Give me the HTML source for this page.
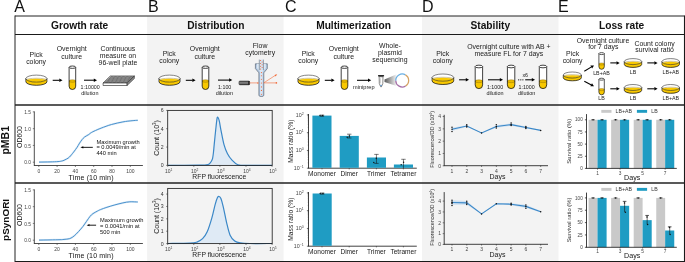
<!DOCTYPE html>
<html><head><meta charset="utf-8"><style>
html,body{margin:0;padding:0;background:#fff;}
svg{display:block;font-family:"Liberation Sans", sans-serif;will-change:transform;}
</style></head><body>
<svg width="685" height="262" viewBox="0 0 685 262">
<rect x="147.1" y="16" width="136.5" height="246" fill="#f3f3f3"/>
<rect x="422" y="16" width="136.5" height="246" fill="#f3f3f3"/>
<line x1="15" y1="16" x2="684.5" y2="16" stroke="#222" stroke-width="1.0"/>
<line x1="15" y1="34.5" x2="685" y2="34.5" stroke="#1a1a1a" stroke-width="1.1"/>
<line x1="15" y1="105" x2="685" y2="105" stroke="#222" stroke-width="1.5"/>
<line x1="15" y1="183" x2="685" y2="183" stroke="#222" stroke-width="1.5"/>
<line x1="15" y1="261.5" x2="685" y2="261.5" stroke="#1a1a1a" stroke-width="1.1"/>
<line x1="15" y1="15.5" x2="15" y2="262" stroke="#222" stroke-width="1.0"/>
<line x1="684.5" y1="15.5" x2="684.5" y2="262" stroke="#1a1a1a" stroke-width="1.1"/>
<text x="14.2" y="11.6" font-size="16" text-anchor="start" fill="#111">A</text>
<text x="147.9" y="11.6" font-size="16" text-anchor="start" fill="#111">B</text>
<text x="285.1" y="11.6" font-size="16" text-anchor="start" fill="#111">C</text>
<text x="421.9" y="11.6" font-size="16" text-anchor="start" fill="#111">D</text>
<text x="557.9" y="11.6" font-size="16" text-anchor="start" fill="#111">E</text>
<text x="79.7" y="28.5" font-size="10.2" text-anchor="middle" fill="#111" font-weight="bold">Growth rate</text>
<text x="215.8" y="28.5" font-size="10.2" text-anchor="middle" fill="#111" font-weight="bold">Distribution</text>
<text x="353.5" y="28.5" font-size="10.2" text-anchor="middle" fill="#111" font-weight="bold">Multimerization</text>
<text x="490.3" y="28.5" font-size="10.2" text-anchor="middle" fill="#111" font-weight="bold">Stability</text>
<text x="621.6" y="28.5" font-size="10.2" text-anchor="middle" fill="#111" font-weight="bold">Loss rate</text>
<text transform="translate(8.6,140.3) rotate(-90)" font-size="10.5" font-weight="bold" text-anchor="middle" fill="#111">pMB1</text>
<text transform="translate(8.6,219.9) rotate(-90)" font-size="9.95" font-weight="bold" text-anchor="middle" fill="#111">pSynORI</text>
<text x="36.1" y="56.9" font-size="6.9" text-anchor="middle" fill="#1a1a1a">Pick</text>
<text x="36.1" y="63.5" font-size="6.9" text-anchor="middle" fill="#1a1a1a">colony</text>
<text x="71.7" y="51.4" font-size="6.9" text-anchor="middle" fill="#1a1a1a">Overnight</text>
<text x="71.7" y="58.6" font-size="6.9" text-anchor="middle" fill="#1a1a1a">culture</text>
<path d="M25.9,78.6 L25.9,81.8 A10.5,3.5 0 0 0 46.9,81.8 L46.9,78.6 A10.5,3.5 0 0 1 25.9,78.6 Z" fill="#f8c800" stroke="#111" stroke-width="0.75"/>
<path d="M25.9,78.6 A10.5,3.5 0 0 1 46.9,78.6 A10.5,3.5 0 0 1 25.9,78.6 Z" fill="#fff"/>
<path d="M26.21,80.36 A10.19,1.61 0 0 1 46.59,80.36 A10.5,3.5 0 0 1 26.21,80.36 Z" fill="#f8c800"/>
<path d="M26.21,79.86 A10.19,1.61 0 0 1 46.59,79.86" fill="none" stroke="#8a6c00" stroke-width="0.375"/>
<ellipse cx="36.4" cy="78.6" rx="10.5" ry="3.5" fill="none" stroke="#333" stroke-width="0.6000000000000001"/>
<line x1="52.7" y1="80.3" x2="59.6" y2="80.3" stroke="#000" stroke-width="1.05"/>
<path d="M62.5,80.3 L59.3,82.05 L59.3,78.55 Z" fill="#000"/>
<path d="M69.1,67.2 L69.1,86.2 A3.3,3.3 0 0 0 75.7,86.2 L75.7,67.2 Z" fill="#fff"/>
<path d="M69.1,81 L69.1,86.2 A3.3,3.3 0 0 0 75.7,86.2 L75.7,81 Z" fill="#f8c800"/>
<ellipse cx="72.4" cy="81" rx="3.3" ry="1.32" fill="#e9b900" stroke="#7a5c00" stroke-width="0.35"/>
<path d="M69.1,67.2 L69.1,86.2 A3.3,3.3 0 0 0 75.7,86.2 L75.7,67.2" fill="none" stroke="#111" stroke-width="0.8"/>
<ellipse cx="72.4" cy="67.2" rx="3.3" ry="1.19" fill="#fff" stroke="#111" stroke-width="0.8"/>
<line x1="84" y1="80.2" x2="94.1" y2="80.2" stroke="#000" stroke-width="1.05"/>
<path d="M97,80.2 L93.8,81.95 L93.8,78.45 Z" fill="#000"/>
<text x="90.2" y="89" font-size="5.3" text-anchor="middle" fill="#1a1a1a">1:10000</text>
<text x="89.8" y="94.6" font-size="5.45" text-anchor="middle" fill="#1a1a1a">dilution</text>
<text x="117.9" y="51.4" font-size="6.9" text-anchor="middle" fill="#1a1a1a">Continuous</text>
<text x="117.9" y="58.4" font-size="6.9" text-anchor="middle" fill="#1a1a1a">measure on</text>
<text x="117.9" y="65.3" font-size="6.9" text-anchor="middle" fill="#1a1a1a">96-well plate</text>
<path d="M110.3,76 L134.4,76 L127.1,83 L103.1,83 Z" fill="#c4c4c4"/>
<line x1="104.94" y1="82.4" x2="111.74" y2="76.6" stroke="#3a3a3a" stroke-width="0.62"/>
<line x1="106.28" y1="82.4" x2="113.08" y2="76.6" stroke="#3a3a3a" stroke-width="0.62"/>
<line x1="107.62" y1="82.4" x2="114.42" y2="76.6" stroke="#3a3a3a" stroke-width="0.62"/>
<line x1="108.96" y1="82.4" x2="115.76" y2="76.6" stroke="#3a3a3a" stroke-width="0.62"/>
<line x1="110.3" y1="82.4" x2="117.1" y2="76.6" stroke="#3a3a3a" stroke-width="0.62"/>
<line x1="111.64" y1="82.4" x2="118.44" y2="76.6" stroke="#3a3a3a" stroke-width="0.62"/>
<line x1="112.98" y1="82.4" x2="119.78" y2="76.6" stroke="#3a3a3a" stroke-width="0.62"/>
<line x1="114.32" y1="82.4" x2="121.12" y2="76.6" stroke="#3a3a3a" stroke-width="0.62"/>
<line x1="115.66" y1="82.4" x2="122.46" y2="76.6" stroke="#3a3a3a" stroke-width="0.62"/>
<line x1="117" y1="82.4" x2="123.8" y2="76.6" stroke="#3a3a3a" stroke-width="0.62"/>
<line x1="118.34" y1="82.4" x2="125.14" y2="76.6" stroke="#3a3a3a" stroke-width="0.62"/>
<line x1="119.68" y1="82.4" x2="126.48" y2="76.6" stroke="#3a3a3a" stroke-width="0.62"/>
<line x1="121.02" y1="82.4" x2="127.82" y2="76.6" stroke="#3a3a3a" stroke-width="0.62"/>
<line x1="122.36" y1="82.4" x2="129.16" y2="76.6" stroke="#3a3a3a" stroke-width="0.62"/>
<line x1="123.7" y1="82.4" x2="130.5" y2="76.6" stroke="#3a3a3a" stroke-width="0.62"/>
<line x1="125.04" y1="82.4" x2="131.84" y2="76.6" stroke="#3a3a3a" stroke-width="0.62"/>
<line x1="126.38" y1="82.4" x2="133.18" y2="76.6" stroke="#3a3a3a" stroke-width="0.62"/>
<path d="M110.3,76 L134.4,76 L127.1,83 L103.1,83 Z" fill="none" stroke="#1a1a1a" stroke-width="0.6"/>
<path d="M103.1,83 L127.1,83 L127.1,85.5 L103.1,85.5 Z" fill="#fff" stroke="#1a1a1a" stroke-width="0.6"/>
<path d="M127.1,83 L134.4,76 L134.4,78.5 L127.1,85.5 Z" fill="#8a8a8a" stroke="#1a1a1a" stroke-width="0.5"/>
<text x="169.2" y="56.2" font-size="6.9" text-anchor="middle" fill="#1a1a1a">Pick</text>
<text x="169.2" y="62.8" font-size="6.9" text-anchor="middle" fill="#1a1a1a">colony</text>
<text x="204.8" y="51.4" font-size="6.9" text-anchor="middle" fill="#1a1a1a">Overnight</text>
<text x="204.8" y="58.6" font-size="6.9" text-anchor="middle" fill="#1a1a1a">culture</text>
<path d="M159,78.6 L159,81.8 A10.5,3.5 0 0 0 180,81.8 L180,78.6 A10.5,3.5 0 0 1 159,78.6 Z" fill="#f8c800" stroke="#111" stroke-width="0.75"/>
<path d="M159,78.6 A10.5,3.5 0 0 1 180,78.6 A10.5,3.5 0 0 1 159,78.6 Z" fill="#fff"/>
<path d="M159.31,80.36 A10.19,1.61 0 0 1 179.69,80.36 A10.5,3.5 0 0 1 159.31,80.36 Z" fill="#f8c800"/>
<path d="M159.31,79.86 A10.19,1.61 0 0 1 179.69,79.86" fill="none" stroke="#8a6c00" stroke-width="0.375"/>
<ellipse cx="169.5" cy="78.6" rx="10.5" ry="3.5" fill="none" stroke="#333" stroke-width="0.6000000000000001"/>
<line x1="185.8" y1="80.3" x2="192.7" y2="80.3" stroke="#000" stroke-width="1.05"/>
<path d="M195.6,80.3 L192.4,82.05 L192.4,78.55 Z" fill="#000"/>
<path d="M202.2,67.2 L202.2,86.2 A3.3,3.3 0 0 0 208.8,86.2 L208.8,67.2 Z" fill="#fff"/>
<path d="M202.2,81 L202.2,86.2 A3.3,3.3 0 0 0 208.8,86.2 L208.8,81 Z" fill="#f8c800"/>
<ellipse cx="205.5" cy="81" rx="3.3" ry="1.32" fill="#e9b900" stroke="#7a5c00" stroke-width="0.35"/>
<path d="M202.2,67.2 L202.2,86.2 A3.3,3.3 0 0 0 208.8,86.2 L208.8,67.2" fill="none" stroke="#111" stroke-width="0.8"/>
<ellipse cx="205.5" cy="67.2" rx="3.3" ry="1.19" fill="#fff" stroke="#111" stroke-width="0.8"/>
<line x1="218" y1="80.1" x2="229.4" y2="80.1" stroke="#000" stroke-width="1.05"/>
<path d="M232.3,80.1 L229.1,81.85 L229.1,78.35 Z" fill="#000"/>
<text x="224.7" y="88.6" font-size="5.3" text-anchor="middle" fill="#1a1a1a">1:100</text>
<text x="224.3" y="94.5" font-size="5.45" text-anchor="middle" fill="#1a1a1a">dilution</text>
<text x="260.1" y="48.1" font-size="6.9" text-anchor="middle" fill="#1a1a1a">Flow</text>
<text x="260.2" y="54.8" font-size="6.9" text-anchor="middle" fill="#1a1a1a">cytometry</text>
<path d="M255.4,63.8 L255.4,68.6 L258.9,72.8 L258.9,95.2 Q258.9,96.5 261.35,96.5 Q263.8,96.5 263.8,95.2 L263.8,72.8 L267.3,68.6 L267.3,63.8 Z" fill="#b3c9e2" stroke="#3a4654" stroke-width="0.55"/>
<path d="M256.9,63.8 L256.9,68.1 L260.1,71.8 L260.1,95.6 L262.6,95.6 L262.6,71.8 L265.8,68.1 L265.8,63.8 Z" fill="#dbe7f3"/>
<rect x="259.3" y="59.6" width="4.1" height="10.6" fill="#d6e4f2"/>
<line x1="259.3" y1="59.6" x2="259.3" y2="70.2" stroke="#44505e" stroke-width="0.5"/>
<line x1="263.4" y1="59.6" x2="263.4" y2="70.2" stroke="#44505e" stroke-width="0.5"/>
<circle cx="260.6" cy="60.6" r="0.5" fill="#ee5f2b"/>
<circle cx="262.1" cy="62.0" r="0.5" fill="#ee5f2b"/>
<circle cx="260.6" cy="63.4" r="0.5" fill="#ee5f2b"/>
<circle cx="262.1" cy="64.8" r="0.5" fill="#ee5f2b"/>
<circle cx="260.6" cy="66.2" r="0.5" fill="#ee5f2b"/>
<circle cx="262.1" cy="67.6" r="0.5" fill="#ee5f2b"/>
<circle cx="260.6" cy="69.0" r="0.5" fill="#ee5f2b"/>
<circle cx="261.4" cy="72.6" r="0.55" fill="#ee5f2b"/>
<circle cx="261.4" cy="75.8" r="0.55" fill="#ee5f2b"/>
<circle cx="261.4" cy="79.2" r="0.55" fill="#ee5f2b"/>
<circle cx="261.4" cy="83.0" r="0.55" fill="#ee5f2b"/>
<circle cx="261.4" cy="86.9" r="0.55" fill="#ee5f2b"/>
<circle cx="261.4" cy="90.4" r="0.55" fill="#ee5f2b"/>
<circle cx="261.4" cy="94.3" r="0.55" fill="#ee5f2b"/>
<defs><linearGradient id="las" x1="0" x2="0" y1="0" y2="1"><stop offset="0" stop-color="#3a3a3a"/><stop offset="0.5" stop-color="#8a8a8a"/><stop offset="1" stop-color="#333"/></linearGradient></defs>
<rect x="238.9" y="80.9" width="10.8" height="4.0" rx="1.2" fill="url(#las)" stroke="#222" stroke-width="0.4"/>
<rect x="248.2" y="81.0" width="1.4" height="3.8" fill="#222"/>
<line x1="249.7" y1="82.9" x2="257.6" y2="82.9" stroke="#f26a38" stroke-width="0.6"/>
<circle cx="257.9" cy="82.9" r="0.75" fill="#f26a38"/>
<line x1="263.7" y1="82.9" x2="276.2" y2="82.9" stroke="#f26a38" stroke-width="0.6"/>
<circle cx="276.4" cy="82.9" r="0.8" fill="#f26a38"/>
<line x1="263.7" y1="82.9" x2="276.2" y2="74.8" stroke="#f26a38" stroke-width="0.6"/>
<path d="M277.2,74.2 L274.6,75 L275.6,76.4 Z" fill="#f26a38"/>
<text x="308.2" y="55.9" font-size="6.9" text-anchor="middle" fill="#1a1a1a">Pick</text>
<text x="308.2" y="62.5" font-size="6.9" text-anchor="middle" fill="#1a1a1a">colony</text>
<text x="343.8" y="51.4" font-size="6.9" text-anchor="middle" fill="#1a1a1a">Overnight</text>
<text x="343.8" y="58.6" font-size="6.9" text-anchor="middle" fill="#1a1a1a">culture</text>
<path d="M298,78.6 L298,81.8 A10.5,3.5 0 0 0 319,81.8 L319,78.6 A10.5,3.5 0 0 1 298,78.6 Z" fill="#f8c800" stroke="#111" stroke-width="0.75"/>
<path d="M298,78.6 A10.5,3.5 0 0 1 319,78.6 A10.5,3.5 0 0 1 298,78.6 Z" fill="#fff"/>
<path d="M298.31,80.36 A10.19,1.61 0 0 1 318.69,80.36 A10.5,3.5 0 0 1 298.31,80.36 Z" fill="#f8c800"/>
<path d="M298.31,79.86 A10.19,1.61 0 0 1 318.69,79.86" fill="none" stroke="#8a6c00" stroke-width="0.375"/>
<ellipse cx="308.5" cy="78.6" rx="10.5" ry="3.5" fill="none" stroke="#333" stroke-width="0.6000000000000001"/>
<line x1="324.8" y1="80.3" x2="331.7" y2="80.3" stroke="#000" stroke-width="1.05"/>
<path d="M334.6,80.3 L331.4,82.05 L331.4,78.55 Z" fill="#000"/>
<path d="M341.2,67.2 L341.2,86.2 A3.3,3.3 0 0 0 347.8,86.2 L347.8,67.2 Z" fill="#fff"/>
<path d="M341.2,81 L341.2,86.2 A3.3,3.3 0 0 0 347.8,86.2 L347.8,81 Z" fill="#f8c800"/>
<ellipse cx="344.5" cy="81" rx="3.3" ry="1.32" fill="#e9b900" stroke="#7a5c00" stroke-width="0.35"/>
<path d="M341.2,67.2 L341.2,86.2 A3.3,3.3 0 0 0 347.8,86.2 L347.8,67.2" fill="none" stroke="#111" stroke-width="0.8"/>
<ellipse cx="344.5" cy="67.2" rx="3.3" ry="1.19" fill="#fff" stroke="#111" stroke-width="0.8"/>
<line x1="357" y1="80.3" x2="368.3" y2="80.3" stroke="#000" stroke-width="1.05"/>
<path d="M371.2,80.3 L368,82.05 L368,78.55 Z" fill="#000"/>
<text x="363.8" y="88.5" font-size="5.6" text-anchor="middle" fill="#1a1a1a">miniprep</text>
<text x="389.9" y="48.4" font-size="6.9" text-anchor="middle" fill="#1a1a1a">Whole-</text>
<text x="389.9" y="55.4" font-size="6.9" text-anchor="middle" fill="#1a1a1a">plasmid</text>
<text x="389.9" y="62.2" font-size="6.9" text-anchor="middle" fill="#1a1a1a">sequencing</text>
<path d="M379.1,76.6 L383.0,76.6 L382.8,83.6 L381.4,86.8 L380.7,86.8 L379.3,83.6 Z" fill="#fff" stroke="#2a2a2a" stroke-width="0.55"/>
<rect x="378.0" y="74.9" width="6.1" height="1.5" rx="0.5" fill="#2a2a2a"/>
<rect x="379.4" y="76.2" width="3.3" height="0.9" fill="#555"/>
<circle cx="381.05" cy="85.5" r="0.75" fill="#4a90d0"/>
<line x1="380.2" y1="78.2" x2="380.2" y2="83.4" stroke="#777" stroke-width="0.45"/>
<defs><linearGradient id="cone" x1="0" x2="1" y1="0" y2="0"><stop offset="0" stop-color="#5a5a5a"/><stop offset="1" stop-color="#f6f6f6"/></linearGradient></defs>
<path d="M384.5,79.4 L396.6,74.3 L396.6,86.0 L384.5,81.9 Z" fill="url(#cone)"/>
<path d="M395.75,80.73 A6.45,6.45 0 0 1 405.43,74.91" fill="none" stroke="#69afe3" stroke-width="1.25"/>
<path d="M405.43,74.91 A6.45,6.45 0 0 1 405.43,86.09" fill="none" stroke="#d5a263" stroke-width="1.25"/>
<path d="M405.43,86.09 A6.45,6.45 0 0 1 395.75,80.73" fill="none" stroke="#a670a8" stroke-width="1.25"/>
<text x="442.7" y="55.7" font-size="6.9" text-anchor="middle" fill="#1a1a1a">Pick</text>
<text x="442.7" y="62.6" font-size="6.9" text-anchor="middle" fill="#1a1a1a">colony</text>
<path d="M432.1,77.6 L432.1,80.9 A10.8,3.6 0 0 0 453.7,80.9 L453.7,77.6 A10.8,3.6 0 0 1 432.1,77.6 Z" fill="#f8c800" stroke="#111" stroke-width="0.75"/>
<path d="M432.1,77.6 A10.8,3.6 0 0 1 453.7,77.6 A10.8,3.6 0 0 1 432.1,77.6 Z" fill="#fff"/>
<path d="M432.42,79.4 A10.48,1.66 0 0 1 453.38,79.4 A10.8,3.6 0 0 1 432.42,79.4 Z" fill="#f8c800"/>
<path d="M432.42,78.9 A10.48,1.66 0 0 1 453.38,78.9" fill="none" stroke="#8a6c00" stroke-width="0.375"/>
<ellipse cx="442.9" cy="77.6" rx="10.8" ry="3.6" fill="none" stroke="#333" stroke-width="0.6000000000000001"/>
<line x1="459.1" y1="79.8" x2="466.1" y2="79.8" stroke="#000" stroke-width="1.05"/>
<path d="M469,79.8 L465.8,81.55 L465.8,78.05 Z" fill="#000"/>
<path d="M475.2,66.5 L475.2,84.9 A3.7,3.7 0 0 0 482.6,84.9 L482.6,66.5 Z" fill="#fff"/>
<path d="M475.2,81.2 L475.2,84.9 A3.7,3.7 0 0 0 482.6,84.9 L482.6,81.2 Z" fill="#f8c800"/>
<ellipse cx="478.9" cy="81.2" rx="3.7" ry="1.48" fill="#e9b900" stroke="#7a5c00" stroke-width="0.35"/>
<path d="M475.2,66.5 L475.2,84.9 A3.7,3.7 0 0 0 482.6,84.9 L482.6,66.5" fill="none" stroke="#111" stroke-width="0.8"/>
<ellipse cx="478.9" cy="66.5" rx="3.7" ry="1.33" fill="#fff" stroke="#111" stroke-width="0.8"/>
<text x="508.9" y="49.1" font-size="6.9" text-anchor="middle" fill="#1a1a1a">Overnight culture with AB +</text>
<text x="508.9" y="56" font-size="6.9" text-anchor="middle" fill="#1a1a1a">measure FL for 7 days</text>
<line x1="488" y1="79.8" x2="500.1" y2="79.8" stroke="#000" stroke-width="1.05"/>
<path d="M503,79.8 L499.8,81.55 L499.8,78.05 Z" fill="#000"/>
<text x="495" y="89" font-size="5.3" text-anchor="middle" fill="#1a1a1a">1:1000</text>
<text x="495" y="94.9" font-size="5.45" text-anchor="middle" fill="#1a1a1a">dilution</text>
<path d="M507.4,66.5 L507.4,84.9 A3.7,3.7 0 0 0 514.8,84.9 L514.8,66.5 Z" fill="#fff"/>
<path d="M507.4,81.2 L507.4,84.9 A3.7,3.7 0 0 0 514.8,84.9 L514.8,81.2 Z" fill="#f8c800"/>
<ellipse cx="511.1" cy="81.2" rx="3.7" ry="1.48" fill="#e9b900" stroke="#7a5c00" stroke-width="0.35"/>
<path d="M507.4,66.5 L507.4,84.9 A3.7,3.7 0 0 0 514.8,84.9 L514.8,66.5" fill="none" stroke="#111" stroke-width="0.8"/>
<ellipse cx="511.1" cy="66.5" rx="3.7" ry="1.33" fill="#fff" stroke="#111" stroke-width="0.8"/>
<circle cx="518.7" cy="79.8" r="0.65" fill="#111"/>
<circle cx="520.8" cy="79.8" r="0.65" fill="#111"/>
<circle cx="522.9" cy="79.8" r="0.65" fill="#111"/>
<line x1="525.2" y1="79.8" x2="532.1" y2="79.8" stroke="#000" stroke-width="1.05"/>
<path d="M535,79.8 L531.8,81.55 L531.8,78.05 Z" fill="#000"/>
<text x="525.2" y="76.5" font-size="5.3" text-anchor="middle" fill="#1a1a1a">x6</text>
<text x="526.6" y="89" font-size="5.3" text-anchor="middle" fill="#1a1a1a">1:1000</text>
<text x="526.6" y="94.9" font-size="5.45" text-anchor="middle" fill="#1a1a1a">dilution</text>
<path d="M539.3,66.5 L539.3,84.9 A3.7,3.7 0 0 0 546.7,84.9 L546.7,66.5 Z" fill="#fff"/>
<path d="M539.3,81.2 L539.3,84.9 A3.7,3.7 0 0 0 546.7,84.9 L546.7,81.2 Z" fill="#f8c800"/>
<ellipse cx="543" cy="81.2" rx="3.7" ry="1.48" fill="#e9b900" stroke="#7a5c00" stroke-width="0.35"/>
<path d="M539.3,66.5 L539.3,84.9 A3.7,3.7 0 0 0 546.7,84.9 L546.7,66.5" fill="none" stroke="#111" stroke-width="0.8"/>
<ellipse cx="543" cy="66.5" rx="3.7" ry="1.33" fill="#fff" stroke="#111" stroke-width="0.8"/>
<text x="572.6" y="55.9" font-size="6.9" text-anchor="middle" fill="#1a1a1a">Pick</text>
<text x="572.6" y="62.9" font-size="6.9" text-anchor="middle" fill="#1a1a1a">colony</text>
<text x="603" y="42.7" font-size="6.9" text-anchor="middle" fill="#1a1a1a">Overnight culture</text>
<text x="603.3" y="49.2" font-size="6.9" text-anchor="middle" fill="#1a1a1a">for 7 days</text>
<text x="654.6" y="45.5" font-size="6.9" text-anchor="middle" fill="#1a1a1a">Count colony</text>
<text x="654.6" y="52.3" font-size="6.9" text-anchor="middle" fill="#1a1a1a">survival ratio</text>
<path d="M563.3,75 L563.3,77.8 A9,3 0 0 0 581.3,77.8 L581.3,75 A9,3 0 0 1 563.3,75 Z" fill="#f8c800" stroke="#111" stroke-width="0.75"/>
<path d="M563.3,75 A9,3 0 0 1 581.3,75 A9,3 0 0 1 563.3,75 Z" fill="#fff"/>
<path d="M563.57,76.58 A8.73,1.38 0 0 1 581.03,76.58 A9,3 0 0 1 563.57,76.58 Z" fill="#f8c800"/>
<path d="M563.57,76.08 A8.73,1.38 0 0 1 581.03,76.08" fill="none" stroke="#8a6c00" stroke-width="0.375"/>
<ellipse cx="572.3" cy="75" rx="9" ry="3" fill="none" stroke="#333" stroke-width="0.6000000000000001"/>
<line x1="584.3" y1="71.2" x2="591.51" y2="66.89" stroke="#000" stroke-width="1.05"/>
<path d="M594,65.4 L592.15,68.54 L590.36,65.54 Z" fill="#000"/>
<line x1="584.3" y1="81.2" x2="591.43" y2="84.95" stroke="#000" stroke-width="1.05"/>
<path d="M594,86.3 L590.35,86.36 L591.98,83.26 Z" fill="#000"/>
<path d="M598.9,53.6 L598.9,66.6 A2.7,2.7 0 0 0 604.3,66.6 L604.3,53.6 Z" fill="#fff"/>
<path d="M598.9,64 L598.9,66.6 A2.7,2.7 0 0 0 604.3,66.6 L604.3,64 Z" fill="#f8c800"/>
<ellipse cx="601.6" cy="64" rx="2.7" ry="1.08" fill="#e9b900" stroke="#7a5c00" stroke-width="0.35"/>
<path d="M598.9,53.6 L598.9,66.6 A2.7,2.7 0 0 0 604.3,66.6 L604.3,53.6" fill="none" stroke="#111" stroke-width="0.7"/>
<ellipse cx="601.6" cy="53.6" rx="2.7" ry="0.97" fill="#fff" stroke="#111" stroke-width="0.7"/>
<path d="M598.9,79.2 L598.9,92.1 A2.7,2.7 0 0 0 604.3,92.1 L604.3,79.2 Z" fill="#fff"/>
<path d="M598.9,89.6 L598.9,92.1 A2.7,2.7 0 0 0 604.3,92.1 L604.3,89.6 Z" fill="#f8c800"/>
<ellipse cx="601.6" cy="89.6" rx="2.7" ry="1.08" fill="#e9b900" stroke="#7a5c00" stroke-width="0.35"/>
<path d="M598.9,79.2 L598.9,92.1 A2.7,2.7 0 0 0 604.3,92.1 L604.3,79.2" fill="none" stroke="#111" stroke-width="0.7"/>
<ellipse cx="601.6" cy="79.2" rx="2.7" ry="0.97" fill="#fff" stroke="#111" stroke-width="0.7"/>
<text x="601.5" y="74.6" font-size="5.3" text-anchor="middle" fill="#1a1a1a">LB+AB</text>
<text x="601.5" y="100.2" font-size="5.3" text-anchor="middle" fill="#1a1a1a">LB</text>
<line x1="610.3" y1="62.9" x2="616.8" y2="62.9" stroke="#000" stroke-width="1.05"/>
<path d="M619.7,62.9 L616.5,64.65 L616.5,61.15 Z" fill="#000"/>
<line x1="647.3" y1="62.9" x2="654.7" y2="62.9" stroke="#000" stroke-width="1.05"/>
<path d="M657.6,62.9 L654.4,64.65 L654.4,61.15 Z" fill="#000"/>
<path d="M624.3,61.6 L624.3,64.4 A8.7,3 0 0 0 641.7,64.4 L641.7,61.6 A8.7,3 0 0 1 624.3,61.6 Z" fill="#f8c800" stroke="#111" stroke-width="0.75"/>
<path d="M624.3,61.6 A8.7,3 0 0 1 641.7,61.6 A8.7,3 0 0 1 624.3,61.6 Z" fill="#fff"/>
<path d="M624.56,63.18 A8.44,1.38 0 0 1 641.44,63.18 A8.7,3 0 0 1 624.56,63.18 Z" fill="#f8c800"/>
<path d="M624.56,62.68 A8.44,1.38 0 0 1 641.44,62.68" fill="none" stroke="#8a6c00" stroke-width="0.375"/>
<ellipse cx="633" cy="61.6" rx="8.7" ry="3" fill="none" stroke="#333" stroke-width="0.6000000000000001"/>
<path d="M662,61.6 L662,64.4 A8.7,3 0 0 0 679.4,64.4 L679.4,61.6 A8.7,3 0 0 1 662,61.6 Z" fill="#f8c800" stroke="#111" stroke-width="0.75"/>
<path d="M662,61.6 A8.7,3 0 0 1 679.4,61.6 A8.7,3 0 0 1 662,61.6 Z" fill="#fff"/>
<path d="M662.26,63.18 A8.44,1.38 0 0 1 679.14,63.18 A8.7,3 0 0 1 662.26,63.18 Z" fill="#f8c800"/>
<path d="M662.26,62.68 A8.44,1.38 0 0 1 679.14,62.68" fill="none" stroke="#8a6c00" stroke-width="0.375"/>
<ellipse cx="670.7" cy="61.6" rx="8.7" ry="3" fill="none" stroke="#333" stroke-width="0.6000000000000001"/>
<text x="633.1" y="74.3" font-size="5.3" text-anchor="middle" fill="#1a1a1a">LB</text>
<text x="670.8" y="74.3" font-size="5.3" text-anchor="middle" fill="#1a1a1a">LB+AB</text>
<line x1="610.3" y1="88.8" x2="616.8" y2="88.8" stroke="#000" stroke-width="1.05"/>
<path d="M619.7,88.8 L616.5,90.55 L616.5,87.05 Z" fill="#000"/>
<line x1="647.3" y1="88.8" x2="654.7" y2="88.8" stroke="#000" stroke-width="1.05"/>
<path d="M657.6,88.8 L654.4,90.55 L654.4,87.05 Z" fill="#000"/>
<path d="M624.3,87.5 L624.3,90.3 A8.7,3 0 0 0 641.7,90.3 L641.7,87.5 A8.7,3 0 0 1 624.3,87.5 Z" fill="#f8c800" stroke="#111" stroke-width="0.75"/>
<path d="M624.3,87.5 A8.7,3 0 0 1 641.7,87.5 A8.7,3 0 0 1 624.3,87.5 Z" fill="#fff"/>
<path d="M624.56,89.08 A8.44,1.38 0 0 1 641.44,89.08 A8.7,3 0 0 1 624.56,89.08 Z" fill="#f8c800"/>
<path d="M624.56,88.58 A8.44,1.38 0 0 1 641.44,88.58" fill="none" stroke="#8a6c00" stroke-width="0.375"/>
<ellipse cx="633" cy="87.5" rx="8.7" ry="3" fill="none" stroke="#333" stroke-width="0.6000000000000001"/>
<path d="M662,87.5 L662,90.3 A8.7,3 0 0 0 679.4,90.3 L679.4,87.5 A8.7,3 0 0 1 662,87.5 Z" fill="#f8c800" stroke="#111" stroke-width="0.75"/>
<path d="M662,87.5 A8.7,3 0 0 1 679.4,87.5 A8.7,3 0 0 1 662,87.5 Z" fill="#fff"/>
<path d="M662.26,89.08 A8.44,1.38 0 0 1 679.14,89.08 A8.7,3 0 0 1 662.26,89.08 Z" fill="#f8c800"/>
<path d="M662.26,88.58 A8.44,1.38 0 0 1 679.14,88.58" fill="none" stroke="#8a6c00" stroke-width="0.375"/>
<ellipse cx="670.7" cy="87.5" rx="8.7" ry="3" fill="none" stroke="#333" stroke-width="0.6000000000000001"/>
<text x="633.1" y="100.2" font-size="5.3" text-anchor="middle" fill="#1a1a1a">LB</text>
<text x="670.8" y="100.2" font-size="5.3" text-anchor="middle" fill="#1a1a1a">LB+AB</text>
<line x1="34.3" y1="111.4" x2="34.3" y2="165.5" stroke="#222" stroke-width="0.8"/>
<line x1="33.9" y1="165.5" x2="142.9" y2="165.5" stroke="#222" stroke-width="0.8"/>
<line x1="32.8" y1="162.2" x2="34.3" y2="162.2" stroke="#333" stroke-width="0.6"/>
<text x="31" y="164.4" font-size="4.9" text-anchor="end" fill="#444">0.0</text>
<line x1="32.8" y1="145.43" x2="34.3" y2="145.43" stroke="#333" stroke-width="0.6"/>
<text x="31" y="147.63" font-size="4.9" text-anchor="end" fill="#444">0.5</text>
<line x1="32.8" y1="128.66" x2="34.3" y2="128.66" stroke="#333" stroke-width="0.6"/>
<text x="31" y="130.86" font-size="4.9" text-anchor="end" fill="#444">1.0</text>
<line x1="32.8" y1="111.89" x2="34.3" y2="111.89" stroke="#333" stroke-width="0.6"/>
<text x="31" y="114.09" font-size="4.9" text-anchor="end" fill="#444">1.5</text>
<line x1="38.8" y1="165.5" x2="38.8" y2="167" stroke="#333" stroke-width="0.6"/>
<text x="38.8" y="172.7" font-size="5" text-anchor="middle" fill="#444">0</text>
<line x1="57.1" y1="165.5" x2="57.1" y2="167" stroke="#333" stroke-width="0.6"/>
<text x="57.1" y="172.7" font-size="5" text-anchor="middle" fill="#444">20</text>
<line x1="75.4" y1="165.5" x2="75.4" y2="167" stroke="#333" stroke-width="0.6"/>
<text x="75.4" y="172.7" font-size="5" text-anchor="middle" fill="#444">40</text>
<line x1="93.7" y1="165.5" x2="93.7" y2="167" stroke="#333" stroke-width="0.6"/>
<text x="93.7" y="172.7" font-size="5" text-anchor="middle" fill="#444">60</text>
<line x1="112" y1="165.5" x2="112" y2="167" stroke="#333" stroke-width="0.6"/>
<text x="112" y="172.7" font-size="5" text-anchor="middle" fill="#444">80</text>
<line x1="130.3" y1="165.5" x2="130.3" y2="167" stroke="#333" stroke-width="0.6"/>
<text x="130.3" y="172.7" font-size="5" text-anchor="middle" fill="#444">100</text>
<text x="91.1" y="179.8" font-size="7.1" text-anchor="middle" fill="#151515" letter-spacing="0.12">Time (10 min)</text>
<text transform="translate(22,137) rotate(-90)" font-size="6.9" text-anchor="middle" fill="#111">OD600</text>
<path d="M39,162.1 C40.83,162.07 46.83,161.98 50,161.9 C53.17,161.82 56.08,161.73 58,161.6 C59.92,161.47 60.5,161.32 61.5,161.1 C62.5,160.88 63.12,160.67 64,160.3 C64.88,159.93 65.88,159.45 66.8,158.9 C67.72,158.35 68.37,158.13 69.5,157 C70.63,155.87 72.33,153.72 73.6,152.1 C74.87,150.48 76.18,148.67 77.1,147.3 C78.02,145.93 78.3,145.15 79.1,143.9 C79.9,142.65 80.98,140.95 81.9,139.8 C82.82,138.65 83.45,137.88 84.6,137 C85.75,136.12 87.77,135.18 88.8,134.5 C89.83,133.82 89.93,133.45 90.8,132.9 C91.67,132.35 92.27,132 94,131.2 C95.73,130.4 98.28,129.22 101.2,128.1 C104.12,126.98 107.88,125.53 111.5,124.5 C115.12,123.47 119.47,122.53 122.9,121.9 C126.33,121.27 129.62,120.97 132.1,120.7 C134.58,120.43 136.85,120.37 137.8,120.3" fill="none" stroke="#c5def2" stroke-width="2.0" opacity="0.6"/>
<path d="M39,162.1 C40.83,162.07 46.83,161.98 50,161.9 C53.17,161.82 56.08,161.73 58,161.6 C59.92,161.47 60.5,161.32 61.5,161.1 C62.5,160.88 63.12,160.67 64,160.3 C64.88,159.93 65.88,159.45 66.8,158.9 C67.72,158.35 68.37,158.13 69.5,157 C70.63,155.87 72.33,153.72 73.6,152.1 C74.87,150.48 76.18,148.67 77.1,147.3 C78.02,145.93 78.3,145.15 79.1,143.9 C79.9,142.65 80.98,140.95 81.9,139.8 C82.82,138.65 83.45,137.88 84.6,137 C85.75,136.12 87.77,135.18 88.8,134.5 C89.83,133.82 89.93,133.45 90.8,132.9 C91.67,132.35 92.27,132 94,131.2 C95.73,130.4 98.28,129.22 101.2,128.1 C104.12,126.98 107.88,125.53 111.5,124.5 C115.12,123.47 119.47,122.53 122.9,121.9 C126.33,121.27 129.62,120.97 132.1,120.7 C134.58,120.43 136.85,120.37 137.8,120.3" fill="none" stroke="#3a87c7" stroke-width="0.9"/>
<text x="96.4" y="143.7" font-size="5.7" text-anchor="start" fill="#111">Maximum growth</text>
<text x="96.4" y="149.45" font-size="5.7" text-anchor="start" fill="#111">= 0.0049/min at</text>
<text x="96.4" y="155.2" font-size="5.7" text-anchor="start" fill="#111">440 min</text>
<line x1="92.8" y1="147.35" x2="83" y2="147.35" stroke="#000" stroke-width="0.9"/>
<path d="M80.4,147.35 L83.3,146.2 L83.3,148.5 Z" fill="#000"/>
<line x1="34.3" y1="189.4" x2="34.3" y2="243.5" stroke="#222" stroke-width="0.8"/>
<line x1="33.9" y1="243.5" x2="142.9" y2="243.5" stroke="#222" stroke-width="0.8"/>
<line x1="32.8" y1="240.2" x2="34.3" y2="240.2" stroke="#333" stroke-width="0.6"/>
<text x="31" y="242.4" font-size="4.9" text-anchor="end" fill="#444">0.0</text>
<line x1="32.8" y1="223.43" x2="34.3" y2="223.43" stroke="#333" stroke-width="0.6"/>
<text x="31" y="225.63" font-size="4.9" text-anchor="end" fill="#444">0.5</text>
<line x1="32.8" y1="206.66" x2="34.3" y2="206.66" stroke="#333" stroke-width="0.6"/>
<text x="31" y="208.86" font-size="4.9" text-anchor="end" fill="#444">1.0</text>
<line x1="32.8" y1="189.89" x2="34.3" y2="189.89" stroke="#333" stroke-width="0.6"/>
<text x="31" y="192.09" font-size="4.9" text-anchor="end" fill="#444">1.5</text>
<line x1="38.8" y1="243.5" x2="38.8" y2="245" stroke="#333" stroke-width="0.6"/>
<text x="38.8" y="250.7" font-size="5" text-anchor="middle" fill="#444">0</text>
<line x1="57.1" y1="243.5" x2="57.1" y2="245" stroke="#333" stroke-width="0.6"/>
<text x="57.1" y="250.7" font-size="5" text-anchor="middle" fill="#444">20</text>
<line x1="75.4" y1="243.5" x2="75.4" y2="245" stroke="#333" stroke-width="0.6"/>
<text x="75.4" y="250.7" font-size="5" text-anchor="middle" fill="#444">40</text>
<line x1="93.7" y1="243.5" x2="93.7" y2="245" stroke="#333" stroke-width="0.6"/>
<text x="93.7" y="250.7" font-size="5" text-anchor="middle" fill="#444">60</text>
<line x1="112" y1="243.5" x2="112" y2="245" stroke="#333" stroke-width="0.6"/>
<text x="112" y="250.7" font-size="5" text-anchor="middle" fill="#444">80</text>
<line x1="130.3" y1="243.5" x2="130.3" y2="245" stroke="#333" stroke-width="0.6"/>
<text x="130.3" y="250.7" font-size="5" text-anchor="middle" fill="#444">100</text>
<text x="91.1" y="257.8" font-size="7.1" text-anchor="middle" fill="#151515" letter-spacing="0.12">Time (10 min)</text>
<text transform="translate(22,215) rotate(-90)" font-size="6.9" text-anchor="middle" fill="#111">OD600</text>
<path d="M39,240.1 C40.83,240.07 46.5,239.97 50,239.9 C53.5,239.83 57.67,239.78 60,239.7 C62.33,239.62 62.37,239.58 64,239.4 C65.63,239.22 68.1,239.18 69.8,238.6 C71.5,238.02 72.75,237.07 74.2,235.9 C75.65,234.73 77.05,233.17 78.5,231.6 C79.95,230.03 81.57,228.2 82.9,226.5 C84.23,224.8 85.3,223.1 86.5,221.4 C87.7,219.7 89.02,217.6 90.1,216.3 C91.18,215 91.78,214.47 93,213.6 C94.22,212.73 96.15,211.77 97.4,211.1 C98.65,210.43 98.92,210.23 100.5,209.6 C102.08,208.97 104.5,208.08 106.9,207.3 C109.3,206.52 112.23,205.63 114.9,204.9 C117.57,204.17 120.42,203.42 122.9,202.9 C125.38,202.38 127.32,201.95 129.8,201.8 C132.28,201.65 136.47,201.97 137.8,202" fill="none" stroke="#c5def2" stroke-width="2.0" opacity="0.6"/>
<path d="M39,240.1 C40.83,240.07 46.5,239.97 50,239.9 C53.5,239.83 57.67,239.78 60,239.7 C62.33,239.62 62.37,239.58 64,239.4 C65.63,239.22 68.1,239.18 69.8,238.6 C71.5,238.02 72.75,237.07 74.2,235.9 C75.65,234.73 77.05,233.17 78.5,231.6 C79.95,230.03 81.57,228.2 82.9,226.5 C84.23,224.8 85.3,223.1 86.5,221.4 C87.7,219.7 89.02,217.6 90.1,216.3 C91.18,215 91.78,214.47 93,213.6 C94.22,212.73 96.15,211.77 97.4,211.1 C98.65,210.43 98.92,210.23 100.5,209.6 C102.08,208.97 104.5,208.08 106.9,207.3 C109.3,206.52 112.23,205.63 114.9,204.9 C117.57,204.17 120.42,203.42 122.9,202.9 C125.38,202.38 127.32,201.95 129.8,201.8 C132.28,201.65 136.47,201.97 137.8,202" fill="none" stroke="#3a87c7" stroke-width="0.9"/>
<text x="100.1" y="222.4" font-size="5.7" text-anchor="start" fill="#111">Maximum growth</text>
<text x="100.1" y="228.15" font-size="5.7" text-anchor="start" fill="#111">= 0.0041/min at</text>
<text x="100.1" y="233.9" font-size="5.7" text-anchor="start" fill="#111">500 min</text>
<line x1="96.1" y1="225.2" x2="89.2" y2="225.2" stroke="#000" stroke-width="0.9"/>
<path d="M86.6,225.2 L89.5,224.05 L89.5,226.35 Z" fill="#000"/>
<path d="M168,165.3 C173.33,165.28 193.67,165.27 200,165.2 C206.33,165.13 204.47,165.08 206,164.9 C207.53,164.72 208.33,164.67 209.2,164.1 C210.07,163.53 210.63,162.47 211.2,161.5 C211.77,160.53 212.22,159.88 212.6,158.3 C212.98,156.72 213.23,154.28 213.5,152 C213.77,149.72 213.85,148.12 214.2,144.6 C214.55,141.08 215.15,135.1 215.6,130.9 C216.05,126.7 216.53,121.68 216.9,119.4 C217.27,117.12 217.42,117 217.8,117.2 C218.18,117.4 218.65,118.32 219.2,120.6 C219.75,122.88 220.3,126.9 221.1,130.9 C221.9,134.9 222.93,140.78 224,144.6 C225.07,148.42 226.17,151.2 227.5,153.8 C228.83,156.4 230.28,158.37 232,160.2 C233.72,162.03 235.63,163.95 237.8,164.8 C239.97,165.65 239.3,165.22 245,165.3 C250.7,165.38 267.5,165.3 272,165.3 L272,165.4 L168,165.4 Z" fill="#dfeaf5"/>
<path d="M168,165.3 C173.33,165.28 193.67,165.27 200,165.2 C206.33,165.13 204.47,165.08 206,164.9 C207.53,164.72 208.33,164.67 209.2,164.1 C210.07,163.53 210.63,162.47 211.2,161.5 C211.77,160.53 212.22,159.88 212.6,158.3 C212.98,156.72 213.23,154.28 213.5,152 C213.77,149.72 213.85,148.12 214.2,144.6 C214.55,141.08 215.15,135.1 215.6,130.9 C216.05,126.7 216.53,121.68 216.9,119.4 C217.27,117.12 217.42,117 217.8,117.2 C218.18,117.4 218.65,118.32 219.2,120.6 C219.75,122.88 220.3,126.9 221.1,130.9 C221.9,134.9 222.93,140.78 224,144.6 C225.07,148.42 226.17,151.2 227.5,153.8 C228.83,156.4 230.28,158.37 232,160.2 C233.72,162.03 235.63,163.95 237.8,164.8 C239.97,165.65 239.3,165.22 245,165.3 C250.7,165.38 267.5,165.3 272,165.3" fill="none" stroke="#3a87c7" stroke-width="1.2"/>
<rect x="167.7" y="110.4" width="104.5" height="55" fill="none" stroke="#222" stroke-width="0.85"/>
<line x1="166.2" y1="165.4" x2="167.7" y2="165.4" stroke="#333" stroke-width="0.6"/>
<text x="163.6" y="167.3" font-size="5.2" text-anchor="end" fill="#333">0</text>
<line x1="166.2" y1="147.05" x2="167.7" y2="147.05" stroke="#333" stroke-width="0.6"/>
<text x="163.6" y="148.95" font-size="5.2" text-anchor="end" fill="#333">2</text>
<line x1="166.2" y1="128.7" x2="167.7" y2="128.7" stroke="#333" stroke-width="0.6"/>
<text x="163.6" y="130.6" font-size="5.2" text-anchor="end" fill="#333">4</text>
<line x1="166.2" y1="110.4" x2="167.7" y2="110.4" stroke="#333" stroke-width="0.6"/>
<text x="163.6" y="112.3" font-size="5.2" text-anchor="end" fill="#333">6</text>
<line x1="167.7" y1="165.4" x2="167.7" y2="166.8" stroke="#333" stroke-width="0.6"/>
<text x="168.6" y="172.8" font-size="5" text-anchor="middle" fill="#444">10<tspan font-size="3.3" dy="-1.9">1</tspan></text>
<line x1="193.8" y1="165.4" x2="193.8" y2="166.8" stroke="#333" stroke-width="0.6"/>
<text x="194.7" y="172.8" font-size="5" text-anchor="middle" fill="#444">10<tspan font-size="3.3" dy="-1.9">2</tspan></text>
<line x1="219.9" y1="165.4" x2="219.9" y2="166.8" stroke="#333" stroke-width="0.6"/>
<text x="220.8" y="172.8" font-size="5" text-anchor="middle" fill="#444">10<tspan font-size="3.3" dy="-1.9">3</tspan></text>
<line x1="246" y1="165.4" x2="246" y2="166.8" stroke="#333" stroke-width="0.6"/>
<text x="246.9" y="172.8" font-size="5" text-anchor="middle" fill="#444">10<tspan font-size="3.3" dy="-1.9">4</tspan></text>
<line x1="272.1" y1="165.4" x2="272.1" y2="166.8" stroke="#333" stroke-width="0.6"/>
<text x="273" y="172.8" font-size="5" text-anchor="middle" fill="#444">10<tspan font-size="3.3" dy="-1.9">5</tspan></text>
<text x="219.3" y="179.2" font-size="6.8" text-anchor="middle" fill="#222">RFP fluorescence</text>
<text transform="translate(158.6,137.9) rotate(-90)" font-size="7" text-anchor="middle" fill="#222">Count (10<tspan font-size="4.5" dy="-2.4">3</tspan><tspan dy="2.4">)</tspan></text>
<path d="M168,243.5 C171.67,243.45 185.18,243.43 190,243.2 C194.82,242.97 194.8,242.85 196.9,242.1 C199,241.35 200.88,240.42 202.6,238.7 C204.32,236.98 205.67,235.23 207.2,231.8 C208.73,228.37 210.47,222.68 211.8,218.1 C213.13,213.52 214.25,207.72 215.2,204.3 C216.15,200.88 216.85,198.9 217.5,197.6 C218.15,196.3 218.53,196.33 219.1,196.5 C219.67,196.67 220.22,196.92 220.9,198.6 C221.58,200.28 222.25,202.6 223.2,206.6 C224.15,210.6 225.45,217.83 226.6,222.6 C227.75,227.37 228.75,232.13 230.1,235.2 C231.45,238.27 232.98,239.72 234.7,241 C236.42,242.28 237.85,242.48 240.4,242.9 C242.95,243.32 244.73,243.4 250,243.5 C255.27,243.6 268.33,243.5 272,243.5 L272,243.6 L168,243.6 Z" fill="#dfeaf5"/>
<path d="M168,243.5 C171.67,243.45 185.18,243.43 190,243.2 C194.82,242.97 194.8,242.85 196.9,242.1 C199,241.35 200.88,240.42 202.6,238.7 C204.32,236.98 205.67,235.23 207.2,231.8 C208.73,228.37 210.47,222.68 211.8,218.1 C213.13,213.52 214.25,207.72 215.2,204.3 C216.15,200.88 216.85,198.9 217.5,197.6 C218.15,196.3 218.53,196.33 219.1,196.5 C219.67,196.67 220.22,196.92 220.9,198.6 C221.58,200.28 222.25,202.6 223.2,206.6 C224.15,210.6 225.45,217.83 226.6,222.6 C227.75,227.37 228.75,232.13 230.1,235.2 C231.45,238.27 232.98,239.72 234.7,241 C236.42,242.28 237.85,242.48 240.4,242.9 C242.95,243.32 244.73,243.4 250,243.5 C255.27,243.6 268.33,243.5 272,243.5" fill="none" stroke="#3a87c7" stroke-width="1.2"/>
<rect x="167.7" y="188.4" width="104.5" height="55.2" fill="none" stroke="#222" stroke-width="0.85"/>
<line x1="166.2" y1="243.6" x2="167.7" y2="243.6" stroke="#333" stroke-width="0.6"/>
<text x="163.6" y="245.5" font-size="5.2" text-anchor="end" fill="#333">0</text>
<line x1="166.2" y1="231.22" x2="167.7" y2="231.22" stroke="#333" stroke-width="0.6"/>
<text x="163.6" y="233.12" font-size="5.2" text-anchor="end" fill="#333">1</text>
<line x1="166.2" y1="218.84" x2="167.7" y2="218.84" stroke="#333" stroke-width="0.6"/>
<text x="163.6" y="220.74" font-size="5.2" text-anchor="end" fill="#333">2</text>
<line x1="166.2" y1="206.46" x2="167.7" y2="206.46" stroke="#333" stroke-width="0.6"/>
<text x="163.6" y="208.36" font-size="5.2" text-anchor="end" fill="#333">3</text>
<line x1="166.2" y1="194.08" x2="167.7" y2="194.08" stroke="#333" stroke-width="0.6"/>
<text x="163.6" y="195.98" font-size="5.2" text-anchor="end" fill="#333">4</text>
<line x1="167.7" y1="243.6" x2="167.7" y2="245" stroke="#333" stroke-width="0.6"/>
<text x="168.6" y="251" font-size="5" text-anchor="middle" fill="#444">10<tspan font-size="3.3" dy="-1.9">1</tspan></text>
<line x1="193.8" y1="243.6" x2="193.8" y2="245" stroke="#333" stroke-width="0.6"/>
<text x="194.7" y="251" font-size="5" text-anchor="middle" fill="#444">10<tspan font-size="3.3" dy="-1.9">2</tspan></text>
<line x1="219.9" y1="243.6" x2="219.9" y2="245" stroke="#333" stroke-width="0.6"/>
<text x="220.8" y="251" font-size="5" text-anchor="middle" fill="#444">10<tspan font-size="3.3" dy="-1.9">3</tspan></text>
<line x1="246" y1="243.6" x2="246" y2="245" stroke="#333" stroke-width="0.6"/>
<text x="246.9" y="251" font-size="5" text-anchor="middle" fill="#444">10<tspan font-size="3.3" dy="-1.9">4</tspan></text>
<line x1="272.1" y1="243.6" x2="272.1" y2="245" stroke="#333" stroke-width="0.6"/>
<text x="273" y="251" font-size="5" text-anchor="middle" fill="#444">10<tspan font-size="3.3" dy="-1.9">5</tspan></text>
<text x="219.3" y="257.4" font-size="6.8" text-anchor="middle" fill="#222">RFP fluorescence</text>
<text transform="translate(158.6,216) rotate(-90)" font-size="7" text-anchor="middle" fill="#222">Count (10<tspan font-size="4.5" dy="-2.4">3</tspan><tspan dy="2.4">)</tspan></text>
<line x1="308.5" y1="114" x2="308.5" y2="168.2" stroke="#111" stroke-width="0.8"/>
<line x1="308.1" y1="168.2" x2="416.8" y2="168.2" stroke="#111" stroke-width="0.8"/>
<line x1="306.9" y1="114.9" x2="308.5" y2="114.9" stroke="#111" stroke-width="0.6"/>
<text x="303.6" y="116.7" font-size="5.3" text-anchor="end" fill="#444">10<tspan font-size="3.5" dy="-2.1">2</tspan></text>
<line x1="307.7" y1="127.32" x2="308.5" y2="127.32" stroke="#333" stroke-width="0.4"/>
<line x1="307.7" y1="124.19" x2="308.5" y2="124.19" stroke="#333" stroke-width="0.4"/>
<line x1="307.7" y1="121.97" x2="308.5" y2="121.97" stroke="#333" stroke-width="0.4"/>
<line x1="307.7" y1="120.25" x2="308.5" y2="120.25" stroke="#333" stroke-width="0.4"/>
<line x1="307.7" y1="118.84" x2="308.5" y2="118.84" stroke="#333" stroke-width="0.4"/>
<line x1="307.7" y1="117.65" x2="308.5" y2="117.65" stroke="#333" stroke-width="0.4"/>
<line x1="307.7" y1="116.62" x2="308.5" y2="116.62" stroke="#333" stroke-width="0.4"/>
<line x1="307.7" y1="115.71" x2="308.5" y2="115.71" stroke="#333" stroke-width="0.4"/>
<line x1="306.9" y1="132.67" x2="308.5" y2="132.67" stroke="#111" stroke-width="0.6"/>
<text x="303.6" y="134.47" font-size="5.3" text-anchor="end" fill="#444">10<tspan font-size="3.5" dy="-2.1">1</tspan></text>
<line x1="307.7" y1="145.09" x2="308.5" y2="145.09" stroke="#333" stroke-width="0.4"/>
<line x1="307.7" y1="141.96" x2="308.5" y2="141.96" stroke="#333" stroke-width="0.4"/>
<line x1="307.7" y1="139.74" x2="308.5" y2="139.74" stroke="#333" stroke-width="0.4"/>
<line x1="307.7" y1="138.02" x2="308.5" y2="138.02" stroke="#333" stroke-width="0.4"/>
<line x1="307.7" y1="136.61" x2="308.5" y2="136.61" stroke="#333" stroke-width="0.4"/>
<line x1="307.7" y1="135.42" x2="308.5" y2="135.42" stroke="#333" stroke-width="0.4"/>
<line x1="307.7" y1="134.39" x2="308.5" y2="134.39" stroke="#333" stroke-width="0.4"/>
<line x1="307.7" y1="133.48" x2="308.5" y2="133.48" stroke="#333" stroke-width="0.4"/>
<line x1="306.9" y1="150.44" x2="308.5" y2="150.44" stroke="#111" stroke-width="0.6"/>
<text x="303.6" y="152.24" font-size="5.3" text-anchor="end" fill="#444">10<tspan font-size="3.5" dy="-2.1">0</tspan></text>
<line x1="307.7" y1="162.86" x2="308.5" y2="162.86" stroke="#333" stroke-width="0.4"/>
<line x1="307.7" y1="159.73" x2="308.5" y2="159.73" stroke="#333" stroke-width="0.4"/>
<line x1="307.7" y1="157.51" x2="308.5" y2="157.51" stroke="#333" stroke-width="0.4"/>
<line x1="307.7" y1="155.79" x2="308.5" y2="155.79" stroke="#333" stroke-width="0.4"/>
<line x1="307.7" y1="154.38" x2="308.5" y2="154.38" stroke="#333" stroke-width="0.4"/>
<line x1="307.7" y1="153.19" x2="308.5" y2="153.19" stroke="#333" stroke-width="0.4"/>
<line x1="307.7" y1="152.16" x2="308.5" y2="152.16" stroke="#333" stroke-width="0.4"/>
<line x1="307.7" y1="151.25" x2="308.5" y2="151.25" stroke="#333" stroke-width="0.4"/>
<line x1="306.9" y1="168.21" x2="308.5" y2="168.21" stroke="#111" stroke-width="0.6"/>
<text x="303.6" y="170.01" font-size="5.3" text-anchor="end" fill="#444">10<tspan font-size="3.5" dy="-2.1">&#8722;1</tspan></text>
<rect x="312.4" y="115.6" width="19.1" height="52.2" fill="#1f9cc3"/>
<line x1="321.95" y1="115.1" x2="321.95" y2="116.3" stroke="#111" stroke-width="0.55"/>
<line x1="319.75" y1="115.1" x2="324.15" y2="115.1" stroke="#111" stroke-width="0.55"/>
<line x1="319.75" y1="116.3" x2="324.15" y2="116.3" stroke="#111" stroke-width="0.55"/>
<circle cx="320" cy="115.5" r="0.7" fill="#111"/>
<circle cx="322.7" cy="115.5" r="0.7" fill="#111"/>
<rect x="339.7" y="135.9" width="19.1" height="31.9" fill="#1f9cc3"/>
<line x1="349.25" y1="134.2" x2="349.25" y2="138" stroke="#111" stroke-width="0.55"/>
<line x1="347.05" y1="134.2" x2="351.45" y2="134.2" stroke="#111" stroke-width="0.55"/>
<line x1="347.05" y1="138" x2="351.45" y2="138" stroke="#111" stroke-width="0.55"/>
<circle cx="347.2" cy="137.2" r="0.7" fill="#111"/>
<circle cx="349.5" cy="136" r="0.7" fill="#111"/>
<rect x="366.9" y="157.5" width="19.1" height="10.3" fill="#1f9cc3"/>
<line x1="376.45" y1="154.4" x2="376.45" y2="163.4" stroke="#111" stroke-width="0.55"/>
<line x1="374.25" y1="154.4" x2="378.65" y2="154.4" stroke="#111" stroke-width="0.55"/>
<line x1="374.25" y1="163.4" x2="378.65" y2="163.4" stroke="#111" stroke-width="0.55"/>
<circle cx="373.8" cy="162.5" r="0.7" fill="#111"/>
<circle cx="376.3" cy="158.2" r="0.7" fill="#111"/>
<rect x="393.9" y="164.5" width="19.1" height="3.3" fill="#1f9cc3"/>
<line x1="403.45" y1="159.3" x2="403.45" y2="168.2" stroke="#111" stroke-width="0.55"/>
<line x1="401.25" y1="159.3" x2="405.65" y2="159.3" stroke="#111" stroke-width="0.55"/>
<circle cx="401.2" cy="164.8" r="0.7" fill="#111"/>
<circle cx="403.6" cy="162.3" r="0.7" fill="#111"/>
<line x1="322" y1="168.2" x2="322" y2="169.4" stroke="#111" stroke-width="0.5"/>
<text x="322" y="175.8" font-size="6.6" text-anchor="middle" fill="#222">Monomer</text>
<line x1="349.2" y1="168.2" x2="349.2" y2="169.4" stroke="#111" stroke-width="0.5"/>
<text x="349.2" y="175.8" font-size="6.6" text-anchor="middle" fill="#222">Dimer</text>
<line x1="376.4" y1="168.2" x2="376.4" y2="169.4" stroke="#111" stroke-width="0.5"/>
<text x="376.4" y="175.8" font-size="6.6" text-anchor="middle" fill="#222">Trimer</text>
<line x1="403.4" y1="168.2" x2="403.4" y2="169.4" stroke="#111" stroke-width="0.5"/>
<text x="403.4" y="175.8" font-size="6.6" text-anchor="middle" fill="#222">Tetramer</text>
<text transform="translate(292.5,141.2) rotate(-90)" font-size="6.7" text-anchor="middle" fill="#222">Mass ratio (%)</text>
<line x1="308.5" y1="192" x2="308.5" y2="246.2" stroke="#111" stroke-width="0.8"/>
<line x1="308.1" y1="246.2" x2="416.8" y2="246.2" stroke="#111" stroke-width="0.8"/>
<line x1="306.9" y1="192.9" x2="308.5" y2="192.9" stroke="#111" stroke-width="0.6"/>
<text x="303.6" y="194.7" font-size="5.3" text-anchor="end" fill="#444">10<tspan font-size="3.5" dy="-2.1">2</tspan></text>
<line x1="307.7" y1="205.32" x2="308.5" y2="205.32" stroke="#333" stroke-width="0.4"/>
<line x1="307.7" y1="202.19" x2="308.5" y2="202.19" stroke="#333" stroke-width="0.4"/>
<line x1="307.7" y1="199.97" x2="308.5" y2="199.97" stroke="#333" stroke-width="0.4"/>
<line x1="307.7" y1="198.25" x2="308.5" y2="198.25" stroke="#333" stroke-width="0.4"/>
<line x1="307.7" y1="196.84" x2="308.5" y2="196.84" stroke="#333" stroke-width="0.4"/>
<line x1="307.7" y1="195.65" x2="308.5" y2="195.65" stroke="#333" stroke-width="0.4"/>
<line x1="307.7" y1="194.62" x2="308.5" y2="194.62" stroke="#333" stroke-width="0.4"/>
<line x1="307.7" y1="193.71" x2="308.5" y2="193.71" stroke="#333" stroke-width="0.4"/>
<line x1="306.9" y1="210.67" x2="308.5" y2="210.67" stroke="#111" stroke-width="0.6"/>
<text x="303.6" y="212.47" font-size="5.3" text-anchor="end" fill="#444">10<tspan font-size="3.5" dy="-2.1">1</tspan></text>
<line x1="307.7" y1="223.09" x2="308.5" y2="223.09" stroke="#333" stroke-width="0.4"/>
<line x1="307.7" y1="219.96" x2="308.5" y2="219.96" stroke="#333" stroke-width="0.4"/>
<line x1="307.7" y1="217.74" x2="308.5" y2="217.74" stroke="#333" stroke-width="0.4"/>
<line x1="307.7" y1="216.02" x2="308.5" y2="216.02" stroke="#333" stroke-width="0.4"/>
<line x1="307.7" y1="214.61" x2="308.5" y2="214.61" stroke="#333" stroke-width="0.4"/>
<line x1="307.7" y1="213.42" x2="308.5" y2="213.42" stroke="#333" stroke-width="0.4"/>
<line x1="307.7" y1="212.39" x2="308.5" y2="212.39" stroke="#333" stroke-width="0.4"/>
<line x1="307.7" y1="211.48" x2="308.5" y2="211.48" stroke="#333" stroke-width="0.4"/>
<line x1="306.9" y1="228.44" x2="308.5" y2="228.44" stroke="#111" stroke-width="0.6"/>
<text x="303.6" y="230.24" font-size="5.3" text-anchor="end" fill="#444">10<tspan font-size="3.5" dy="-2.1">0</tspan></text>
<line x1="307.7" y1="240.86" x2="308.5" y2="240.86" stroke="#333" stroke-width="0.4"/>
<line x1="307.7" y1="237.73" x2="308.5" y2="237.73" stroke="#333" stroke-width="0.4"/>
<line x1="307.7" y1="235.51" x2="308.5" y2="235.51" stroke="#333" stroke-width="0.4"/>
<line x1="307.7" y1="233.79" x2="308.5" y2="233.79" stroke="#333" stroke-width="0.4"/>
<line x1="307.7" y1="232.38" x2="308.5" y2="232.38" stroke="#333" stroke-width="0.4"/>
<line x1="307.7" y1="231.19" x2="308.5" y2="231.19" stroke="#333" stroke-width="0.4"/>
<line x1="307.7" y1="230.16" x2="308.5" y2="230.16" stroke="#333" stroke-width="0.4"/>
<line x1="307.7" y1="229.25" x2="308.5" y2="229.25" stroke="#333" stroke-width="0.4"/>
<line x1="306.9" y1="246.21" x2="308.5" y2="246.21" stroke="#111" stroke-width="0.6"/>
<text x="303.6" y="248.01" font-size="5.3" text-anchor="end" fill="#444">10<tspan font-size="3.5" dy="-2.1">&#8722;1</tspan></text>
<rect x="312.6" y="193.5" width="19.1" height="52.3" fill="#1f9cc3"/>
<line x1="322.15" y1="193" x2="322.15" y2="194.2" stroke="#111" stroke-width="0.55"/>
<line x1="319.95" y1="193" x2="324.35" y2="193" stroke="#111" stroke-width="0.55"/>
<line x1="319.95" y1="194.2" x2="324.35" y2="194.2" stroke="#111" stroke-width="0.55"/>
<circle cx="320.2" cy="193.4" r="0.7" fill="#111"/>
<circle cx="323" cy="193.4" r="0.7" fill="#111"/>
<line x1="322" y1="246.2" x2="322" y2="247.4" stroke="#111" stroke-width="0.5"/>
<text x="322" y="253.8" font-size="6.6" text-anchor="middle" fill="#222">Monomer</text>
<line x1="349.2" y1="246.2" x2="349.2" y2="247.4" stroke="#111" stroke-width="0.5"/>
<text x="349.2" y="253.8" font-size="6.6" text-anchor="middle" fill="#222">Dimer</text>
<line x1="376.4" y1="246.2" x2="376.4" y2="247.4" stroke="#111" stroke-width="0.5"/>
<text x="376.4" y="253.8" font-size="6.6" text-anchor="middle" fill="#222">Trimer</text>
<line x1="403.4" y1="246.2" x2="403.4" y2="247.4" stroke="#111" stroke-width="0.5"/>
<text x="403.4" y="253.8" font-size="6.6" text-anchor="middle" fill="#222">Tetramer</text>
<text transform="translate(292.5,219.2) rotate(-90)" font-size="6.7" text-anchor="middle" fill="#222">Mass ratio (%)</text>
<line x1="444.2" y1="114.8" x2="444.2" y2="165.7" stroke="#111" stroke-width="0.8"/>
<line x1="443.8" y1="165.7" x2="548" y2="165.7" stroke="#111" stroke-width="0.8"/>
<line x1="442.7" y1="165.8" x2="444.2" y2="165.8" stroke="#111" stroke-width="0.5"/>
<text x="441.1" y="167.5" font-size="5" text-anchor="end" fill="#444">0</text>
<line x1="442.7" y1="153.48" x2="444.2" y2="153.48" stroke="#111" stroke-width="0.5"/>
<text x="441.1" y="155.18" font-size="5" text-anchor="end" fill="#444">1</text>
<line x1="442.7" y1="141.16" x2="444.2" y2="141.16" stroke="#111" stroke-width="0.5"/>
<text x="441.1" y="142.86" font-size="5" text-anchor="end" fill="#444">2</text>
<line x1="442.7" y1="128.84" x2="444.2" y2="128.84" stroke="#111" stroke-width="0.5"/>
<text x="441.1" y="130.54" font-size="5" text-anchor="end" fill="#444">3</text>
<line x1="442.7" y1="116.52" x2="444.2" y2="116.52" stroke="#111" stroke-width="0.5"/>
<text x="441.1" y="118.22" font-size="5" text-anchor="end" fill="#444">4</text>
<line x1="452" y1="165.7" x2="452" y2="167" stroke="#111" stroke-width="0.5"/>
<text x="452" y="172.9" font-size="5" text-anchor="middle" fill="#444">1</text>
<line x1="466.78" y1="165.7" x2="466.78" y2="167" stroke="#111" stroke-width="0.5"/>
<text x="466.78" y="172.9" font-size="5" text-anchor="middle" fill="#444">2</text>
<line x1="481.56" y1="165.7" x2="481.56" y2="167" stroke="#111" stroke-width="0.5"/>
<text x="481.56" y="172.9" font-size="5" text-anchor="middle" fill="#444">3</text>
<line x1="496.34" y1="165.7" x2="496.34" y2="167" stroke="#111" stroke-width="0.5"/>
<text x="496.34" y="172.9" font-size="5" text-anchor="middle" fill="#444">4</text>
<line x1="511.12" y1="165.7" x2="511.12" y2="167" stroke="#111" stroke-width="0.5"/>
<text x="511.12" y="172.9" font-size="5" text-anchor="middle" fill="#444">5</text>
<line x1="525.9" y1="165.7" x2="525.9" y2="167" stroke="#111" stroke-width="0.5"/>
<text x="525.9" y="172.9" font-size="5" text-anchor="middle" fill="#444">6</text>
<line x1="540.68" y1="165.7" x2="540.68" y2="167" stroke="#111" stroke-width="0.5"/>
<text x="540.68" y="172.9" font-size="5" text-anchor="middle" fill="#444">7</text>
<text x="497.5" y="178.5" font-size="7" text-anchor="middle" fill="#1a1a1a">Days</text>
<text transform="translate(434,139.35) rotate(-90)" font-size="5.3" text-anchor="middle" fill="#333">Fluorescence/OD (x10<tspan font-size="3.4" dy="-1.8">4</tspan><tspan dy="1.8">)</tspan></text>
<polygon points="452,127.7 466.78,125.2 481.56,132.7 496.34,125.2 511.12,123.4 525.9,126.5 540.68,130 540.68,130.8 525.9,128.5 511.12,125.8 496.34,127.8 481.56,133.3 466.78,126.8 452,130.9" fill="#c9ddf0" opacity="0.85"/>
<polyline points="452,129.3 466.78,126 481.56,133 496.34,126.5 511.12,124.6 525.9,127.5 540.68,130.4" fill="none" stroke="#3a87c7" stroke-width="1.1"/>
<circle cx="452" cy="127.2" r="0.75" fill="#111"/>
<circle cx="452" cy="131.4" r="0.75" fill="#111"/>
<circle cx="452" cy="129.3" r="0.75" fill="#111"/>
<circle cx="466.78" cy="124.8" r="0.75" fill="#111"/>
<circle cx="466.78" cy="126.9" r="0.75" fill="#111"/>
<circle cx="466.78" cy="126" r="0.75" fill="#111"/>
<circle cx="481.56" cy="133" r="0.75" fill="#111"/>
<circle cx="496.34" cy="124.8" r="0.75" fill="#111"/>
<circle cx="496.34" cy="127.9" r="0.75" fill="#111"/>
<circle cx="496.34" cy="126.5" r="0.75" fill="#111"/>
<circle cx="511.12" cy="123" r="0.75" fill="#111"/>
<circle cx="511.12" cy="125.4" r="0.75" fill="#111"/>
<circle cx="511.12" cy="124.6" r="0.75" fill="#111"/>
<circle cx="525.9" cy="126.4" r="0.75" fill="#111"/>
<circle cx="525.9" cy="128.6" r="0.75" fill="#111"/>
<circle cx="525.9" cy="127.5" r="0.75" fill="#111"/>
<circle cx="540.68" cy="130.4" r="0.75" fill="#111"/>
<line x1="444.2" y1="192.1" x2="444.2" y2="244.3" stroke="#111" stroke-width="0.8"/>
<line x1="443.8" y1="244.3" x2="548" y2="244.3" stroke="#111" stroke-width="0.8"/>
<line x1="442.7" y1="244.5" x2="444.2" y2="244.5" stroke="#111" stroke-width="0.5"/>
<text x="441.1" y="246.2" font-size="5" text-anchor="end" fill="#444">0</text>
<line x1="442.7" y1="233.65" x2="444.2" y2="233.65" stroke="#111" stroke-width="0.5"/>
<text x="441.1" y="235.35" font-size="5" text-anchor="end" fill="#444">1</text>
<line x1="442.7" y1="222.8" x2="444.2" y2="222.8" stroke="#111" stroke-width="0.5"/>
<text x="441.1" y="224.5" font-size="5" text-anchor="end" fill="#444">2</text>
<line x1="442.7" y1="211.95" x2="444.2" y2="211.95" stroke="#111" stroke-width="0.5"/>
<text x="441.1" y="213.65" font-size="5" text-anchor="end" fill="#444">3</text>
<line x1="442.7" y1="201.1" x2="444.2" y2="201.1" stroke="#111" stroke-width="0.5"/>
<text x="441.1" y="202.8" font-size="5" text-anchor="end" fill="#444">4</text>
<line x1="452" y1="244.3" x2="452" y2="245.6" stroke="#111" stroke-width="0.5"/>
<text x="452" y="250.9" font-size="5" text-anchor="middle" fill="#444">1</text>
<line x1="466.78" y1="244.3" x2="466.78" y2="245.6" stroke="#111" stroke-width="0.5"/>
<text x="466.78" y="250.9" font-size="5" text-anchor="middle" fill="#444">2</text>
<line x1="481.56" y1="244.3" x2="481.56" y2="245.6" stroke="#111" stroke-width="0.5"/>
<text x="481.56" y="250.9" font-size="5" text-anchor="middle" fill="#444">3</text>
<line x1="496.34" y1="244.3" x2="496.34" y2="245.6" stroke="#111" stroke-width="0.5"/>
<text x="496.34" y="250.9" font-size="5" text-anchor="middle" fill="#444">4</text>
<line x1="511.12" y1="244.3" x2="511.12" y2="245.6" stroke="#111" stroke-width="0.5"/>
<text x="511.12" y="250.9" font-size="5" text-anchor="middle" fill="#444">5</text>
<line x1="525.9" y1="244.3" x2="525.9" y2="245.6" stroke="#111" stroke-width="0.5"/>
<text x="525.9" y="250.9" font-size="5" text-anchor="middle" fill="#444">6</text>
<line x1="540.68" y1="244.3" x2="540.68" y2="245.6" stroke="#111" stroke-width="0.5"/>
<text x="540.68" y="250.9" font-size="5" text-anchor="middle" fill="#444">7</text>
<text x="497.5" y="256.5" font-size="7" text-anchor="middle" fill="#1a1a1a">Days</text>
<text transform="translate(434,217.3) rotate(-90)" font-size="5.3" text-anchor="middle" fill="#333">Fluorescence/OD (x10<tspan font-size="3.4" dy="-1.8">4</tspan><tspan dy="1.8">)</tspan></text>
<polygon points="452,200.2 466.78,201.1 481.56,213.6 496.34,203.4 511.12,203.2 525.9,204.7 540.68,211.1 540.68,212.3 525.9,208.1 511.12,205.2 496.34,204.2 481.56,214.2 466.78,204.7 452,204.8" fill="#c9ddf0" opacity="0.85"/>
<polyline points="452,202.5 466.78,202.9 481.56,213.9 496.34,203.8 511.12,204.2 525.9,206.4 540.68,211.7" fill="none" stroke="#3a87c7" stroke-width="1.1"/>
<circle cx="452" cy="200.3" r="0.75" fill="#111"/>
<circle cx="452" cy="202" r="0.75" fill="#111"/>
<circle cx="452" cy="203.6" r="0.75" fill="#111"/>
<circle cx="452" cy="205.4" r="0.75" fill="#111"/>
<circle cx="452" cy="202.5" r="0.75" fill="#111"/>
<circle cx="466.78" cy="201.2" r="0.75" fill="#111"/>
<circle cx="466.78" cy="204.6" r="0.75" fill="#111"/>
<circle cx="466.78" cy="202.9" r="0.75" fill="#111"/>
<circle cx="481.56" cy="213.9" r="0.75" fill="#111"/>
<circle cx="496.34" cy="203.8" r="0.75" fill="#111"/>
<circle cx="511.12" cy="203.2" r="0.75" fill="#111"/>
<circle cx="511.12" cy="204.9" r="0.75" fill="#111"/>
<circle cx="511.12" cy="204.2" r="0.75" fill="#111"/>
<circle cx="525.9" cy="205.1" r="0.75" fill="#111"/>
<circle cx="525.9" cy="208.2" r="0.75" fill="#111"/>
<circle cx="525.9" cy="206.4" r="0.75" fill="#111"/>
<circle cx="540.68" cy="211.7" r="0.75" fill="#111"/>
<rect x="601.3" y="109.9" width="10.2" height="2.9" fill="#c9c9c9"/>
<text x="615.6" y="113.2" font-size="5.2" text-anchor="start" fill="#333">LB+AB</text>
<rect x="636.9" y="109.9" width="10.2" height="2.9" fill="#1f9cc3"/>
<text x="651.3" y="113.2" font-size="5.2" text-anchor="start" fill="#333">LB</text>
<rect x="588.6" y="119.8" width="8.9" height="48.6" fill="#c9c9c9"/>
<rect x="597.5" y="119.8" width="9.1" height="48.6" fill="#1f9cc3"/>
<line x1="591.25" y1="119.8" x2="594.85" y2="119.8" stroke="#111" stroke-width="0.6"/>
<circle cx="593.05" cy="119.8" r="0.75" fill="#111"/>
<line x1="600.25" y1="119.8" x2="603.85" y2="119.8" stroke="#111" stroke-width="0.6"/>
<circle cx="602.05" cy="119.8" r="0.75" fill="#111"/>
<line x1="597.5" y1="168.4" x2="597.5" y2="169.7" stroke="#111" stroke-width="0.5"/>
<text x="597.5" y="174.6" font-size="4.8" text-anchor="middle" fill="#444">1</text>
<rect x="611.15" y="119.8" width="8.9" height="48.6" fill="#c9c9c9"/>
<rect x="620.05" y="119.8" width="9.1" height="48.6" fill="#1f9cc3"/>
<line x1="613.8" y1="119.8" x2="617.4" y2="119.8" stroke="#111" stroke-width="0.6"/>
<circle cx="615.6" cy="119.8" r="0.75" fill="#111"/>
<line x1="622.8" y1="119.8" x2="626.4" y2="119.8" stroke="#111" stroke-width="0.6"/>
<circle cx="624.6" cy="119.8" r="0.75" fill="#111"/>
<line x1="620.05" y1="168.4" x2="620.05" y2="169.7" stroke="#111" stroke-width="0.5"/>
<text x="620.05" y="174.6" font-size="4.8" text-anchor="middle" fill="#444">3</text>
<rect x="633.7" y="119.8" width="8.9" height="48.6" fill="#c9c9c9"/>
<rect x="642.6" y="119.8" width="9.1" height="48.6" fill="#1f9cc3"/>
<line x1="636.35" y1="119.8" x2="639.95" y2="119.8" stroke="#111" stroke-width="0.6"/>
<circle cx="638.15" cy="119.8" r="0.75" fill="#111"/>
<line x1="645.35" y1="119.8" x2="648.95" y2="119.8" stroke="#111" stroke-width="0.6"/>
<circle cx="647.15" cy="119.8" r="0.75" fill="#111"/>
<line x1="642.6" y1="168.4" x2="642.6" y2="169.7" stroke="#111" stroke-width="0.5"/>
<text x="642.6" y="174.6" font-size="4.8" text-anchor="middle" fill="#444">5</text>
<rect x="656.25" y="119.8" width="8.9" height="48.6" fill="#c9c9c9"/>
<rect x="665.15" y="119.8" width="9.1" height="48.6" fill="#1f9cc3"/>
<line x1="658.9" y1="119.8" x2="662.5" y2="119.8" stroke="#111" stroke-width="0.6"/>
<circle cx="660.7" cy="119.8" r="0.75" fill="#111"/>
<line x1="667.9" y1="119.8" x2="671.5" y2="119.8" stroke="#111" stroke-width="0.6"/>
<circle cx="669.7" cy="119.8" r="0.75" fill="#111"/>
<line x1="665.15" y1="168.4" x2="665.15" y2="169.7" stroke="#111" stroke-width="0.5"/>
<text x="665.15" y="174.6" font-size="4.8" text-anchor="middle" fill="#444">7</text>
<line x1="586.5" y1="114.1" x2="586.5" y2="168.4" stroke="#111" stroke-width="0.8"/>
<line x1="586.1" y1="168.4" x2="676.8" y2="168.4" stroke="#111" stroke-width="0.8"/>
<line x1="584.9" y1="168.4" x2="586.5" y2="168.4" stroke="#111" stroke-width="0.7"/>
<text x="582.7" y="170" font-size="4.6" text-anchor="end" fill="#444">0</text>
<line x1="584.9" y1="156.25" x2="586.5" y2="156.25" stroke="#111" stroke-width="0.7"/>
<text x="582.7" y="157.85" font-size="4.6" text-anchor="end" fill="#444">25</text>
<line x1="584.9" y1="144.1" x2="586.5" y2="144.1" stroke="#111" stroke-width="0.7"/>
<text x="582.7" y="145.7" font-size="4.6" text-anchor="end" fill="#444">50</text>
<line x1="584.9" y1="131.95" x2="586.5" y2="131.95" stroke="#111" stroke-width="0.7"/>
<text x="582.7" y="133.55" font-size="4.6" text-anchor="end" fill="#444">75</text>
<line x1="584.9" y1="119.8" x2="586.5" y2="119.8" stroke="#111" stroke-width="0.7"/>
<text x="582.7" y="121.4" font-size="4.6" text-anchor="end" fill="#444">100</text>
<text x="632.2" y="180.1" font-size="7.1" text-anchor="middle" fill="#151515">Days</text>
<text transform="translate(570.6,141.25) rotate(-90)" font-size="5.9" text-anchor="middle" fill="#333">Survival ratio (%)</text>
<rect x="601.3" y="187.9" width="10.2" height="2.9" fill="#c9c9c9"/>
<text x="615.6" y="191.2" font-size="5.2" text-anchor="start" fill="#333">LB+AB</text>
<rect x="636.9" y="187.9" width="10.2" height="2.9" fill="#1f9cc3"/>
<text x="651.3" y="191.2" font-size="5.2" text-anchor="start" fill="#333">LB</text>
<rect x="588.6" y="197.9" width="8.9" height="49.4" fill="#c9c9c9"/>
<rect x="597.5" y="197.9" width="9.1" height="49.4" fill="#1f9cc3"/>
<line x1="591.25" y1="197.9" x2="594.85" y2="197.9" stroke="#111" stroke-width="0.6"/>
<circle cx="593.05" cy="197.9" r="0.75" fill="#111"/>
<line x1="600.25" y1="197.9" x2="603.85" y2="197.9" stroke="#111" stroke-width="0.6"/>
<circle cx="602.05" cy="197.9" r="0.75" fill="#111"/>
<line x1="597.5" y1="247.3" x2="597.5" y2="248.6" stroke="#111" stroke-width="0.5"/>
<text x="597.5" y="252.6" font-size="4.8" text-anchor="middle" fill="#444">1</text>
<rect x="611.15" y="197.9" width="8.9" height="49.4" fill="#c9c9c9"/>
<rect x="620.05" y="205.8" width="9.1" height="41.5" fill="#1f9cc3"/>
<line x1="613.8" y1="197.9" x2="617.4" y2="197.9" stroke="#111" stroke-width="0.6"/>
<circle cx="615.6" cy="197.9" r="0.75" fill="#111"/>
<line x1="624.6" y1="201.36" x2="624.6" y2="211.98" stroke="#111" stroke-width="0.6"/>
<line x1="622.8" y1="201.36" x2="626.4" y2="201.36" stroke="#111" stroke-width="0.7"/>
<circle cx="624.5" cy="203" r="0.75" fill="#111"/>
<circle cx="625.4" cy="212.2" r="0.75" fill="#111"/>
<line x1="620.05" y1="247.3" x2="620.05" y2="248.6" stroke="#111" stroke-width="0.5"/>
<text x="620.05" y="252.6" font-size="4.8" text-anchor="middle" fill="#444">3</text>
<rect x="633.7" y="197.9" width="8.9" height="49.4" fill="#c9c9c9"/>
<rect x="642.6" y="220.13" width="9.1" height="27.17" fill="#1f9cc3"/>
<line x1="636.35" y1="197.9" x2="639.95" y2="197.9" stroke="#111" stroke-width="0.6"/>
<circle cx="638.15" cy="197.9" r="0.75" fill="#111"/>
<line x1="647.15" y1="215.44" x2="647.15" y2="224.33" stroke="#111" stroke-width="0.6"/>
<line x1="645.35" y1="215.44" x2="648.95" y2="215.44" stroke="#111" stroke-width="0.7"/>
<circle cx="647" cy="217" r="0.75" fill="#111"/>
<circle cx="647.6" cy="224.4" r="0.75" fill="#111"/>
<line x1="642.6" y1="247.3" x2="642.6" y2="248.6" stroke="#111" stroke-width="0.5"/>
<text x="642.6" y="252.6" font-size="4.8" text-anchor="middle" fill="#444">5</text>
<rect x="656.25" y="197.9" width="8.9" height="49.4" fill="#c9c9c9"/>
<rect x="665.15" y="230.5" width="9.1" height="16.8" fill="#1f9cc3"/>
<line x1="658.9" y1="197.9" x2="662.5" y2="197.9" stroke="#111" stroke-width="0.6"/>
<circle cx="660.7" cy="197.9" r="0.75" fill="#111"/>
<line x1="669.7" y1="226.8" x2="669.7" y2="234.21" stroke="#111" stroke-width="0.6"/>
<line x1="667.9" y1="226.8" x2="671.5" y2="226.8" stroke="#111" stroke-width="0.7"/>
<circle cx="669.5" cy="227.6" r="0.75" fill="#111"/>
<circle cx="670.1" cy="234.5" r="0.75" fill="#111"/>
<line x1="665.15" y1="247.3" x2="665.15" y2="248.6" stroke="#111" stroke-width="0.5"/>
<text x="665.15" y="252.6" font-size="4.8" text-anchor="middle" fill="#444">7</text>
<line x1="586.5" y1="192.6" x2="586.5" y2="247.3" stroke="#111" stroke-width="0.8"/>
<line x1="586.1" y1="247.3" x2="676.8" y2="247.3" stroke="#111" stroke-width="0.8"/>
<line x1="584.9" y1="247.3" x2="586.5" y2="247.3" stroke="#111" stroke-width="0.7"/>
<text x="582.7" y="248.9" font-size="4.6" text-anchor="end" fill="#444">0</text>
<line x1="584.9" y1="234.95" x2="586.5" y2="234.95" stroke="#111" stroke-width="0.7"/>
<text x="582.7" y="236.55" font-size="4.6" text-anchor="end" fill="#444">25</text>
<line x1="584.9" y1="222.6" x2="586.5" y2="222.6" stroke="#111" stroke-width="0.7"/>
<text x="582.7" y="224.2" font-size="4.6" text-anchor="end" fill="#444">50</text>
<line x1="584.9" y1="210.25" x2="586.5" y2="210.25" stroke="#111" stroke-width="0.7"/>
<text x="582.7" y="211.85" font-size="4.6" text-anchor="end" fill="#444">75</text>
<line x1="584.9" y1="197.9" x2="586.5" y2="197.9" stroke="#111" stroke-width="0.7"/>
<text x="582.7" y="199.5" font-size="4.6" text-anchor="end" fill="#444">100</text>
<text x="632.2" y="258.1" font-size="7.1" text-anchor="middle" fill="#151515">Days</text>
<text transform="translate(570.6,219.95) rotate(-90)" font-size="5.9" text-anchor="middle" fill="#333">Survival ratio (%)</text>
</svg>
</body></html>
